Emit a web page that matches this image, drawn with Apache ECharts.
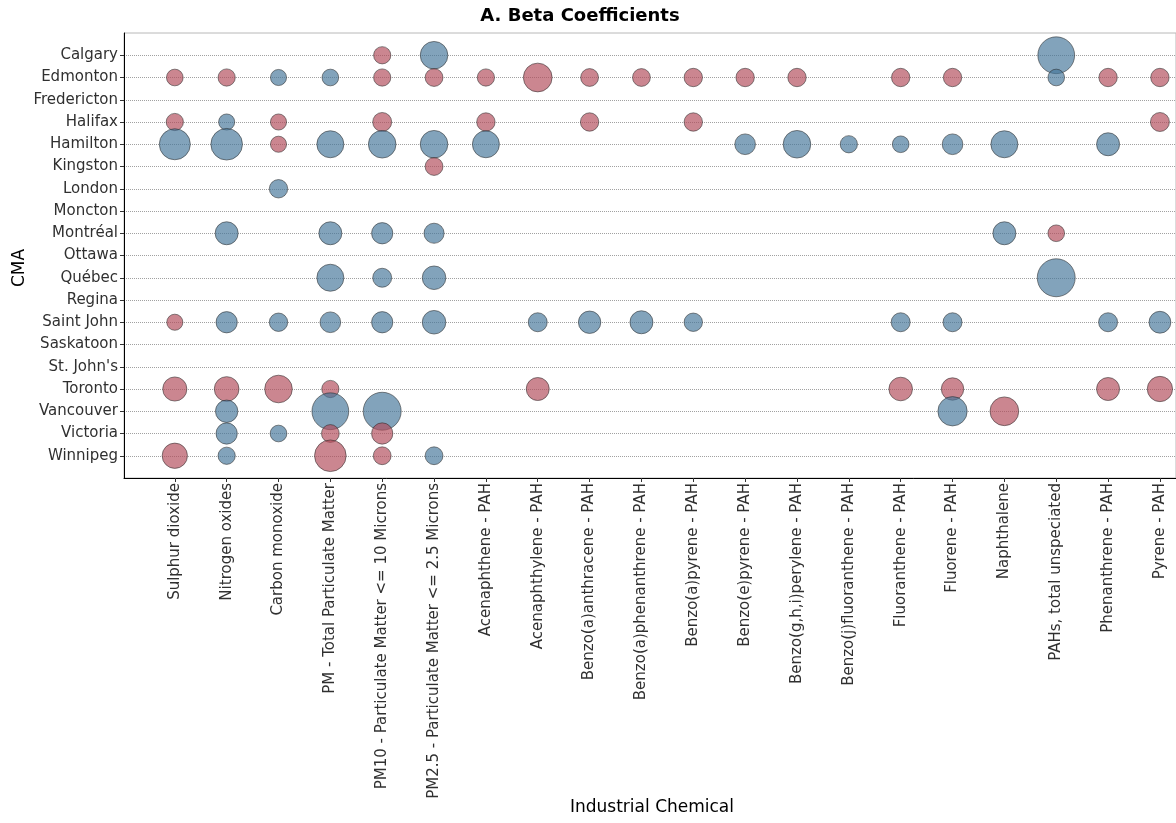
<!DOCTYPE html>
<html>
<head>
<meta charset="utf-8">
<title>A. Beta Coefficients</title>
<script src="https://cdn.jsdelivr.net/npm/echarts@6/dist/echarts.min.js"></script>
<style>
  html, body { margin: 0; padding: 0; background: #ffffff; }
  #chart { width: 1176px; height: 823px; }
</style>
</head>
<body>
<div id="chart"></div>
<script>
// Census metropolitan areas, top to bottom
const cities = [
  'Calgary', 'Edmonton', 'Fredericton', 'Halifax', 'Hamilton', 'Kingston',
  'London', 'Moncton', 'Montréal', 'Ottawa', 'Québec', 'Regina',
  'Saint John', 'Saskatoon', "St. John's", 'Toronto', 'Vancouver',
  'Victoria', 'Winnipeg'
];

// Industrial chemicals, left to right
const chemicals = [
  'Sulphur dioxide', 'Nitrogen oxides', 'Carbon monoxide',
  'PM - Total Particulate Matter', 'PM10 - Particulate Matter <= 10 Microns',
  'PM2.5 - Particulate Matter <= 2.5 Microns', 'Acenaphthene - PAH',
  'Acenaphthylene - PAH', 'Benzo(a)anthracene - PAH', 'Benzo(a)phenanthrene - PAH',
  'Benzo(a)pyrene - PAH', 'Benzo(e)pyrene - PAH', 'Benzo(g,h,i)perylene - PAH',
  'Benzo(j)fluoranthene - PAH', 'Fluoranthene - PAH', 'Fluorene - PAH',
  'Naphthalene', 'PAHs, total unspeciated', 'Phenanthrene - PAH', 'Pyrene - PAH'
];

// Beta coefficients: one row per city, one column per chemical (null = not significant)
const _ = null;
const beta = [
  /* Calgary     */ [_, _, _, _, 0.150, -0.240, _, _, _, _, _, _, _, _, _, _, _, -0.320, _, _],
  /* Edmonton    */ [0.145, 0.150, -0.140, -0.145, 0.150, 0.155, 0.150, 0.250, 0.155, 0.155, 0.160, 0.160, 0.160, _, 0.160, 0.160, _, -0.145, 0.160, 0.160],
  /* Fredericton */ [_, _, _, _, _, _, _, _, _, _, _, _, _, _, _, _, _, _, _, _],
  /* Halifax     */ [0.150, -0.140, 0.140, _, 0.165, _, 0.160, _, 0.160, _, 0.160, _, _, _, _, _, _, _, _, 0.165],
  /* Hamilton    */ [-0.270, -0.275, 0.140, -0.235, -0.240, -0.240, -0.235, _, _, _, _, -0.180, -0.240, -0.150, -0.145, -0.180, -0.235, _, -0.200, _],
  /* Kingston    */ [_, _, _, _, _, 0.155, _, _, _, _, _, _, _, _, _, _, _, _, _, _],
  /* London      */ [_, _, -0.160, _, _, _, _, _, _, _, _, _, _, _, _, _, _, _, _, _],
  /* Moncton     */ [_, _, _, _, _, _, _, _, _, _, _, _, _, _, _, _, _, _, _, _],
  /* Montréal    */ [_, -0.200, _, -0.200, -0.185, -0.175, _, _, _, _, _, _, _, _, _, _, -0.200, 0.145, _, _],
  /* Ottawa      */ [_, _, _, _, _, _, _, _, _, _, _, _, _, _, _, _, _, _, _, _],
  /* Québec      */ [_, _, _, -0.235, -0.165, -0.205, _, _, _, _, _, _, _, _, _, _, _, -0.330, _, _],
  /* Regina      */ [_, _, _, _, _, _, _, _, _, _, _, _, _, _, _, _, _, _, _, _],
  /* Saint John  */ [0.140, -0.185, -0.160, -0.180, -0.185, -0.205, _, -0.165, -0.195, -0.200, -0.160, _, _, _, -0.165, -0.165, _, _, -0.165, -0.190],
  /* Saskatoon   */ [_, _, _, _, _, _, _, _, _, _, _, _, _, _, _, _, _, _, _, _],
  /* St. John's  */ [_, _, _, _, _, _, _, _, _, _, _, _, _, _, _, _, _, _, _, _],
  /* Toronto     */ [0.210, 0.215, 0.240, 0.150, _, _, _, 0.200, _, _, _, _, _, _, 0.205, 0.195, _, _, 0.200, 0.220],
  /* Vancouver   */ [_, -0.195, _, -0.320, -0.330, _, _, _, _, _, _, _, _, _, _, -0.255, 0.250, _, _, _],
  /* Victoria    */ [_, -0.185, -0.145, 0.155, 0.185, _, _, _, _, _, _, _, _, _, _, _, _, _, _, _],
  /* Winnipeg    */ [0.220, -0.150, _, 0.275, 0.155, -0.155, _, _, _, _, _, _, _, _, _, _, _, _, _, _]
];

const POS_COLOR = 'rgba(178, 74, 90, 0.84)';
const NEG_COLOR = 'rgba(68, 118, 154, 0.84)';

// bubble diameter grows with the size of the coefficient
function sizeOf(b) { return Math.abs(b) * 115; }

// flatten the matrix into [chemical, city, beta] points, city by city
const points = [];
beta.forEach(function (row, ci) {
  row.forEach(function (b, xi) {
    if (b !== null) points.push([xi, ci, b]);
  });
});

const cityTicks = cities.map(function (c, i) { return i; });
const chemTicks = chemicals.map(function (c, i) { return i; });

const chart = echarts.init(document.getElementById('chart'), null, { renderer: 'canvas' });

const axisFont = { fontFamily: '"DejaVu Sans", sans-serif', fontSize: 15, color: '#303030' };

chart.setOption({
  animation: false,
  backgroundColor: '#ffffff',
  grid: {
    left: 124, top: 33, right: 0, bottom: 345,
    show: true, borderColor: '#b8b8b8', borderWidth: 1, backgroundColor: 'transparent'
  },
  xAxis: {
    type: 'value',
    min: -0.98, max: 19.31,
    axisLine: { show: true, onZero: false, lineStyle: { color: '#000000', width: 1 } },
    axisTick: { show: true, length: 4, customValues: chemTicks, lineStyle: { color: '#333333' } },
    axisLabel: Object.assign({
      rotate: 90, margin: 5, customValues: chemTicks,
      formatter: function (v) { return chemicals[v] || ''; }
    }, axisFont),
    splitLine: { show: false }
  },
  yAxis: {
    type: 'value',
    inverse: true,
    min: -1, max: 19, interval: 1,
    axisLine: { show: true, onZero: false, lineStyle: { color: '#000000', width: 1 } },
    axisTick: { show: true, length: 4, customValues: cityTicks, lineStyle: { color: '#333333' } },
    axisLabel: Object.assign({
      margin: 6, customValues: cityTicks,
      formatter: function (v) { return cities[v] || ''; }
    }, axisFont),
    splitLine: { show: true, lineStyle: { color: '#8a8a8a', width: 0.8, type: [1, 1] } }
  },
  series: [{
    type: 'scatter',
    data: points,
    symbol: 'circle',
    symbolSize: function (d) { return sizeOf(d[2]); },
    itemStyle: {
      color: function (p) { return p.data[2] > 0 ? POS_COLOR : NEG_COLOR; },
      borderColor: 'rgba(40, 40, 40, 0.85)',
      borderWidth: 0.8
    },
    z: 3
  }],
  graphic: [
    {
      type: 'text', x: 580, y: 16,
      style: {
        text: 'A. Beta Coefficients', fill: '#000000',
        font: 'bold 18px "DejaVu Sans", sans-serif',
        textAlign: 'center', textVerticalAlign: 'middle'
      }
    },
    {
      type: 'text', x: 20, y: 268, rotation: Math.PI / 2,
      style: {
        text: 'CMA', fill: '#000000',
        font: '17px "DejaVu Sans", sans-serif',
        textAlign: 'center', textVerticalAlign: 'middle'
      }
    },
    {
      type: 'text', x: 652, y: 808,
      style: {
        text: 'Industrial Chemical', fill: '#000000',
        font: '17px "DejaVu Sans", sans-serif',
        textAlign: 'center', textVerticalAlign: 'middle'
      }
    }
  ]
});
</script>
</body>
</html>
